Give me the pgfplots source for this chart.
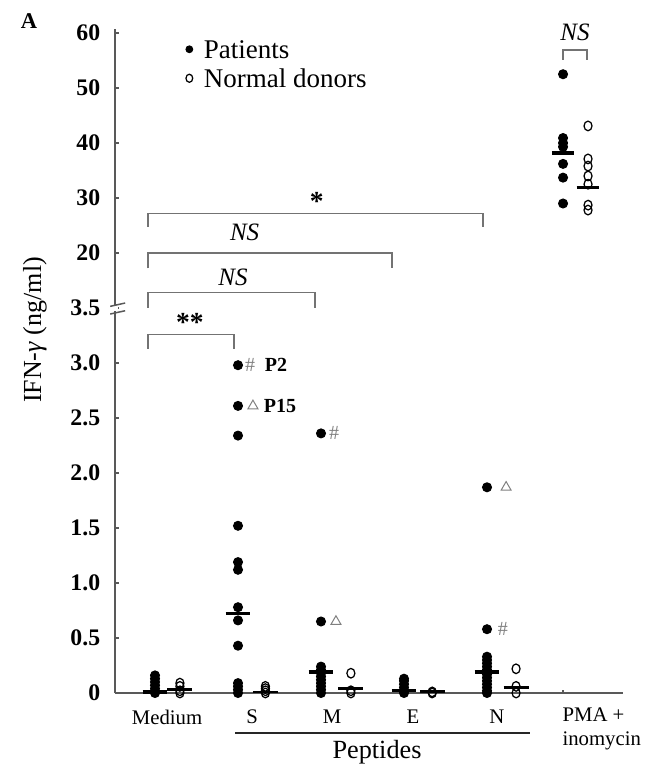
\documentclass[border=0pt]{standalone}
\usepackage{fontspec}
\setmainfont{Liberation Serif}
\usepackage{pgfplots}
\pgfplotsset{compat=1.18}
\definecolor{axgray}{gray}{0.35}
\definecolor{brgray}{gray}{0.45}

\begin{document}
\begin{tikzpicture}
\begin{axis}[
    x=33.2pt, y=44pt,
    xmin=0.518, xmax=6.64,
    ymin=0, ymax=60.7,
    % broken axis: 0--3.5 linear, 20--60 compressed above
    y coord trafo/.code={\pgfmathparse{#1>10 ? #1*0.05+3 : #1}},
    axis lines=left,
    axis line style={-, axgray, line width=0.7pt},
    clip=false,
    ytick={0,0.5,1,1.5,2,2.5,3,3.5,20,30,40,50,60},
    yticklabels={0,0.5,1.0,1.5,2.0,2.5,3.0,3.5,20,30,40,50,60},
    xtick={5.916}, xticklabels={},
    tick align=inside, major tick length=1.4pt,
    tick style={axgray, line width=0.5pt},
    yticklabel style={font=\fontsize{9.5}{10}\selectfont\bfseries, xshift=-2.4pt},
    /pgf/number format/assume math mode=true,
    pat/.style={only marks, mark=*, mark size=1.8pt, black},
    don/.style={only marks, mark=o, mark size=1.6pt, black, mark options={line width=0.5pt, yscale=1.2}},
    med/.style={black, line width=1.3pt, forget plot},
    dmed/.style={black, line width=1.0pt, forget plot},
    legend image code/.code={\draw[#1, mark size=1.35pt] plot coordinates {(0pt,0pt)};},
    legend style={at={(axis cs:1.367,5.72)}, anchor=west, draw=none, fill=none,
        font=\fontsize{10.8}{12}\selectfont, inner sep=0pt,
        nodes={inner sep=1pt, text height=7.5pt, text depth=0pt},
        row sep=2.1pt, column sep=3.5pt},
    legend cell align=left,
]
\coordinate (O) at (rel axis cs:0,0);

% PMA + inomycin (legend series)
\addplot[pat] coordinates {(5.916,52.5) (5.916,40.9) (5.916,40.0) (5.916,39.3) (5.916,36.2) (5.916,33.7) (5.916,29.0)};
\addlegendentry{Patients}
\addplot[don] coordinates {(6.217,43.1) (6.217,37.1) (6.217,35.8) (6.217,34.0) (6.217,32.5) (6.217,28.7) (6.217,27.8)};
\addlegendentry{Normal donors}
\addplot[med] coordinates {(5.78,38.2) (6.05,38.2)};
\addplot[dmed] coordinates {(6.08,31.9) (6.35,31.9)};

% Medium
\addplot[pat, forget plot] coordinates {(1,0) (1,0.01) (1,0.04) (1,0.07) (1,0.10) (1,0.13) (1,0.16)};
\addplot[don, forget plot] coordinates {(1.3,0) (1.3,0.02) (1.3,0.06) (1.3,0.09)};
\addplot[med] coordinates {(0.85,0.01) (1.15,0.01)};
\addplot[dmed] coordinates {(1.15,0.03) (1.45,0.03)};

% S
\addplot[pat, forget plot] coordinates {(2,2.98) (2,2.61) (2,2.34) (2,1.52) (2,1.19) (2,1.12) (2,0.78) (2,0.66) (2,0.43) (2,0.09) (2,0.06) (2,0.03) (2,0)};
\addplot[don, forget plot] coordinates {(2.33,0) (2.33,0.02) (2.33,0.04) (2.33,0.06)};
\addplot[med] coordinates {(1.85,0.72) (2.15,0.72)};
\addplot[dmed] coordinates {(2.18,0.01) (2.48,0.01)};

% M
\addplot[pat, forget plot] coordinates {(3,2.36) (3,0.65) (3,0.24) (3,0.21) (3,0.18) (3,0.15) (3,0.12) (3,0.09) (3,0.06) (3,0.03) (3,0)};
\addplot[don, forget plot] coordinates {(3.36,0.18) (3.36,0.02) (3.36,0)};
\addplot[med] coordinates {(2.85,0.19) (3.15,0.19)};
\addplot[dmed] coordinates {(3.21,0.04) (3.51,0.04)};

% E
\addplot[pat, forget plot] coordinates {(4,0.13) (4,0.11) (4,0.08) (4,0.05) (4,0.02) (4,0)};
\addplot[don, forget plot] coordinates {(4.34,0.01) (4.34,0)};
\addplot[med] coordinates {(3.85,0.02) (4.15,0.02)};
\addplot[dmed] coordinates {(4.19,0.015) (4.49,0.015)};

% N
\addplot[pat, forget plot] coordinates {(5,1.87) (5,0.58) (5,0.33) (5,0.30) (5,0.27) (5,0.24) (5,0.21) (5,0.17) (5,0.14) (5,0.11) (5,0.08) (5,0.05) (5,0.02) (5,0)};
\addplot[don, forget plot] coordinates {(5.35,0.22) (5.35,0.06) (5.35,0)};
\addplot[med] coordinates {(4.85,0.19) (5.15,0.19)};
\addplot[dmed] coordinates {(5.2,0.05) (5.5,0.05)};

% marked patients
\addplot[only marks, mark=triangle, mark size=2.3pt, gray, forget plot] coordinates {(2.18,2.61) (3.18,0.65) (5.23,1.87)};
\begin{scope}[font=\fontsize{8}{9}\selectfont]
\node[gray] at (axis cs:2.145,2.98) {\#};
\node[gray] at (axis cs:3.157,2.36) {\#};
\node[gray] at (axis cs:5.19,0.58) {\#};
\node[font=\fontsize{8}{9}\selectfont\bfseries] at (axis cs:2.458,2.98) {P2};
\node[font=\fontsize{8}{9}\selectfont\bfseries] at (axis cs:2.506,2.61) {P15};
\end{scope}

% axis break at 3.5
\fill[white] (axis cs:0.49,3.475) rectangle (axis cs:0.55,3.525);
\draw[axgray, line width=0.6pt] (axis cs:0.46,3.515) -- (axis cs:0.64,3.545);
\draw[axgray, line width=0.6pt] (axis cs:0.46,3.445) -- (axis cs:0.64,3.475);

% significance brackets
\begin{scope}[brgray, line width=0.6pt]
\draw (axis cs:0.916,4.24) -- (axis cs:0.916,4.36) -- (axis cs:4.95,4.36) -- (axis cs:4.95,4.24);
\draw (axis cs:0.916,3.86) -- (axis cs:0.916,4.0) -- (axis cs:3.855,4.0) -- (axis cs:3.855,3.86);
\draw (axis cs:0.916,3.50) -- (axis cs:0.916,3.64) -- (axis cs:2.93,3.64) -- (axis cs:2.93,3.50);
\draw (axis cs:0.916,3.13) -- (axis cs:0.916,3.26) -- (axis cs:1.95,3.26) -- (axis cs:1.95,3.13);
\draw (axis cs:5.916,5.755) -- (axis cs:5.916,5.845) -- (axis cs:6.205,5.845) -- (axis cs:6.205,5.755);
\end{scope}
\node[font=\fontsize{11}{12}\selectfont\bfseries] at (axis cs:2.95,4.47) {*};
\node[font=\fontsize{11}{12}\selectfont\bfseries] at (axis cs:1.42,3.37) {**};
\node[font=\fontsize{10}{11}\selectfont\itshape] at (axis cs:2.08,4.19) {NS};
\node[font=\fontsize{10}{11}\selectfont\itshape] at (axis cs:1.94,3.78) {NS};
\node[font=\fontsize{10}{11}\selectfont\itshape] at (axis cs:6.06,6.01) {NS};

% category labels
\begin{scope}[font=\fontsize{8.3}{9}\selectfont]
\node at (axis cs:1.145,-0.218) {Medium};
\node at (axis cs:2.169,-0.218) {S};
\node at (axis cs:3.133,-0.218) {M};
\node at (axis cs:4.108,-0.218) {E};
\node at (axis cs:5.12,-0.218) {N};
\node[anchor=west, inner sep=0pt] at (axis cs:5.904,-0.2) {PMA +};
\node[anchor=west, inner sep=0pt] at (axis cs:5.904,-0.436) {inomycin};
\end{scope}
\draw[black!85, line width=0.8pt] (axis cs:1.964,-0.364) -- (axis cs:5.518,-0.364);
\node[font=\fontsize{10.5}{11}\selectfont] at (axis cs:3.675,-0.536) {Peptides};

% axis title and panel letter
\node[rotate=90, font=\fontsize{10.4}{11}\selectfont] at (axis cs:-0.446,3.3) {IFN-\textit{γ} (ng/ml)};
\node[font=\fontsize{9}{10}\selectfont\bfseries] at (axis cs:-0.518,6.11) {A};
\end{axis}
\pgfresetboundingbox
\path (O) ++(-46pt,-29.6pt) rectangle ++(260pt,306.8pt);
\end{tikzpicture}
\end{document}
